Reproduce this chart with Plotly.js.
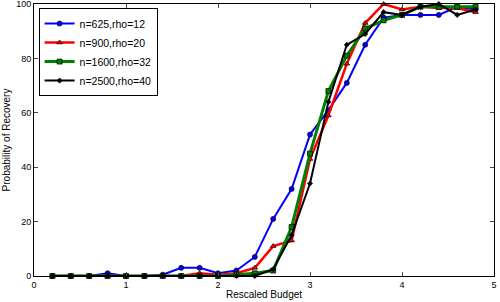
<!DOCTYPE html>
<html><head><meta charset="utf-8">
<script src="https://cdn.plot.ly/plotly-3.0.1.min.js"></script>
<style>html,body{margin:0;padding:0;background:#fff}#c{width:500px;height:302px}</style>
</head><body><div id="c"></div>
<script>
const xs = [0.2,0.4,0.6,0.8,1.0,1.2,1.4,1.6,1.8,2.0,2.2,2.4,2.6,2.8,3.0,3.2,3.4,3.6,3.8,4.0,4.2,4.4,4.6,4.8];
const blue  = [0,0,0,1,0,0,0.5,3,3,1,2,7,21,32,52,61,71,85,95,96,96,96,99,98];
const red   = [0,0,0,0,0,0,0,0,1,0.5,1,3,11,13,43,59,78,93,100,98,99,98.5,98.5,97];
const green = [0,0,0,0,0,0,0,0,0,0,0.5,1,2,18,45,68,81,91,94,96,99,99,99,99];
const black = [0,0,0,0,0,0,0,0,0,0,0,0,2.5,15,34,64,85,89,97,96,99,100,96,98];
const names = ["n=625,rho=12","n=900,rho=20","n=1600,rho=32","n=2500,rho=40"];
const colors = ["#0000ff","#ff0000","#008000","#000000"];
const widths = [2,2.5,3,2];
const symbols = ["circle","triangle-up","square","diamond"];
const sizes = [5,5,5,4];
const series = [blue, red, green, black];
const traces = series.map((ys,i)=>({
  x: xs, y: ys, name: names[i], type:'scatter', mode:'lines+markers', cliponaxis:false,
  line:{color:colors[i], width:widths[i]},
  marker:{symbol:symbols[i], size:sizes[i], color:colors[i], line:{color:'#000', width:0.7}}
}));
const fam = 'Liberation Sans, Arial, sans-serif';
const layout = {
  width:500, height:302,
  margin:{l:34, r:6, t:4, b:26},
  paper_bgcolor:'#fff', plot_bgcolor:'#fff',
  showlegend:true,
  font: {family:fam, size:9, color:'#000'},
  xaxis:{range:[0,5], tickvals:[0,1,2,3,4,5], ticks:'inside', ticklen:4, mirror:'ticks',
         showline:true, linecolor:'#000', linewidth:1, showgrid:false, zeroline:false,
         ticklabeloverflow:'allow', automargin:false,
         tickfont:{family:fam, size:9, color:'#000'},
         title:{text:'Rescaled Budget', font:{family:fam, size:10, color:'#000'}, standoff:2}},
  yaxis:{range:[0,100], tickvals:[0,20,40,60,80,100], ticks:'inside', ticklen:4, mirror:'ticks',
         showline:true, linecolor:'#000', linewidth:1, showgrid:false, zeroline:false,
         ticklabeloverflow:'allow', automargin:false,
         tickfont:{family:fam, size:9, color:'#000'},
         title:{text:'Probability of Recovery', font:{family:fam, size:10, color:'#000'}, standoff:3}},
  legend:{x:0.01, y:0.985, xanchor:'left', yanchor:'top', bordercolor:'#000', borderwidth:1,
          bgcolor:'#fff', font:{family:fam, size:10.5, color:'#000'}, tracegroupgap:0}
};
Plotly.newPlot('c', traces, layout, {displayModeBar:false, staticPlot:true});
</script></body></html>
